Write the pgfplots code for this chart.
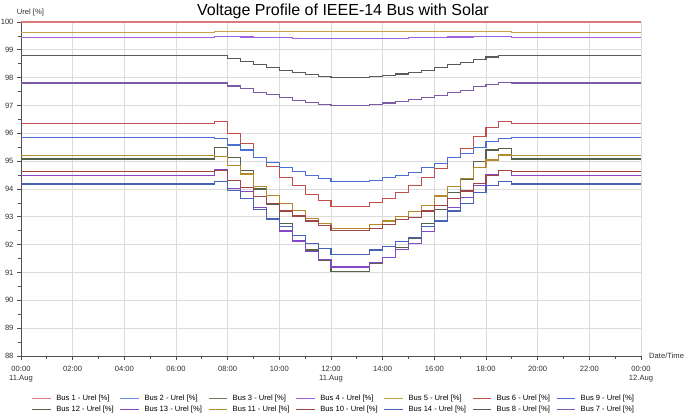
\documentclass[border=0pt]{standalone}
\usepackage{pgfplots}
\pgfplotsset{compat=1.18}
\usepackage{pgfplotstable}
\usepackage{fontspec}
\setmainfont{Liberation Sans}

\definecolor{cA}{HTML}{D97B7B}
\definecolor{cB}{HTML}{6C8EE6}
\definecolor{cC}{HTML}{6E7D5C}
\definecolor{cD}{HTML}{9D62DC}
\definecolor{cE}{HTML}{C8A24A}
\definecolor{cF}{HTML}{C24E4E}
\definecolor{cI}{HTML}{4C6FD4}
\definecolor{cL}{HTML}{56634A}
\definecolor{cM}{HTML}{8548C8}
\definecolor{cK}{HTML}{B38A2C}
\definecolor{cJ}{HTML}{9E4646}
\definecolor{cN}{HTML}{4862B5}
\definecolor{cH}{HTML}{585C58}
\definecolor{cG}{HTML}{7B5AA6}
\definecolor{axisgray}{HTML}{505050}
\definecolor{gridgray}{HTML}{DCDCDC}
\definecolor{labelgray}{HTML}{303030}

\pgfplotstableread{
t    b1  b2  b3  b4    b5    b6    b7    b8    b9    b10   b11   b12   b13   b14
0    100 100 100 99.44 99.63 96.36 97.81 98.80 95.84 94.62 95.20 95.08 94.50 94.18
7.5  100 100 100 99.47 99.65 96.41 97.81 98.80 95.82 94.66 95.17 95.48 94.68 94.27
8    100 100 100 99.47 99.65 96.00 97.70 98.68 95.58 94.31 94.84 95.14 94.02 93.96
8.5  100 100 100 99.46 99.65 95.64 97.60 98.58 95.40 94.06 94.54 94.66 93.90 93.66
9    100 100 100 99.45 99.65 95.14 97.47 98.46 95.14 93.72 94.08 94.00 93.34 93.25
9.5  100 100 100 99.44 99.65 94.80 97.38 98.38 94.96 93.47 93.78 93.45 92.95 92.92
10   100 100 100 99.43 99.65 94.42 97.28 98.27 94.78 93.21 93.49 92.77 92.49 92.64
10.5 100 100 100 99.42 99.65 94.12 97.19 98.19 94.62 93.03 93.22 92.32 92.13 92.32
11   100 100 100 99.41 99.65 93.81 97.11 98.11 94.48 92.85 92.95 91.81 91.75 92.05
11.5 100 100 100 99.40 99.65 93.58 97.05 98.05 94.37 92.68 92.77 91.45 91.47 91.87
12   100 100 100 99.40 99.65 93.38 97.01 98.00 94.26 92.50 92.59 91.05 91.20 91.66
12.5 100 100 100 99.40 99.65 93.38 97.01 98.00 94.26 92.50 92.59 91.05 91.20 91.66
13   100 100 100 99.40 99.65 93.38 97.01 98.00 94.26 92.50 92.59 91.05 91.20 91.66
13.5 100 100 100 99.40 99.65 93.50 97.04 98.03 94.31 92.59 92.71 91.33 91.36 91.81
14   100 100 100 99.41 99.65 93.67 97.09 98.08 94.41 92.71 92.85 91.55 91.55 91.93
14.5 100 100 100 99.42 99.65 93.87 97.14 98.13 94.50 92.89 93.00 91.89 91.83 92.11
15   100 100 100 99.43 99.65 94.12 97.21 98.20 94.60 92.97 93.18 92.23 92.05 92.25
15.5 100 100 100 99.44 99.65 94.41 97.28 98.27 94.77 93.21 93.42 92.77 92.47 92.64
16   100 100 100 99.45 99.65 94.74 97.37 98.36 94.92 93.40 93.75 93.25 92.85 92.85
16.5 100 100 100 99.46 99.65 95.12 97.47 98.46 95.12 93.66 94.08 93.87 93.35 93.21
17   100 100 100 99.46 99.65 95.44 97.55 98.54 95.28 93.93 94.38 94.33 93.69 93.49
17.5 100 100 100 99.47 99.65 95.89 97.67 98.66 95.50 94.20 94.77 95.00 94.14 93.88
18   100 100 100 99.47 99.65 96.20 97.76 98.74 95.70 94.50 95.04 95.40 94.53 94.14
18.5 100 100 100 99.47 99.65 96.42 97.83 98.80 95.82 94.66 95.22 95.46 94.66 94.27
19   100 100 100 99.44 99.63 96.36 97.81 98.80 95.86 94.62 95.20 95.08 94.50 94.18
24   100 100 100 99.44 99.63 96.36 97.81 98.80 95.86 94.62 95.20 95.08 94.50 94.18
}\data

\pgfplotsset{
  bus/.style={const plot, line width=1.15pt, color=#1,
    legend image code/.code={\draw[color=#1, line width=1.15pt] (0pt,0pt) -- (18.5pt,0pt);}},
}

\begin{document}
\begin{tikzpicture}[x=1pt,y=1pt]
\begin{axis}[
  at={(21pt,57pt)}, anchor=south west,
  scale only axis, width=620pt, height=334pt,
  xmin=0, xmax=24, ymin=88, ymax=100, clip=false,
  axis x line*=bottom, axis y line*=left,
  axis line style={color=axisgray, line width=0.8pt},
  xtick={0,2,...,24},
  xticklabels={{00:00\\11.Aug},{02:00},{04:00},{06:00},{08:00},{10:00},{12:00\\11.Aug},{14:00},{16:00},{18:00},{20:00},{22:00},{00:00\\12.Aug}},
  ytick={88,89,...,100},
  minor x tick num=1, minor y tick num=1,
  tick align=outside, major tick length=4pt, minor tick length=2.5pt,
  tick style={color=axisgray, line width=0.8pt},
  grid=major, major grid style={color=gridgray, line width=0.9pt},
  ticklabel style={font=\fontsize{7.6}{9}\selectfont, text=labelgray},
  xticklabel style={align=center, yshift=-3pt},
  /pgf/number format/assume math mode=true,
  legend columns=7,
  legend cell align=left,
  legend style={draw=none, fill=none, inner sep=0pt, outer sep=0pt,
    font=\fontsize{7.6}{9}\selectfont,
    nodes={inner sep=0pt, text height=6pt, text depth=2pt},
    row sep=2.7pt,
    /tikz/every odd column/.style={column sep=5pt},
    /tikz/every even column/.style={column sep=6.1pt},
    at={(rel axis cs:0.01726,-0.1442)}, anchor=west},
]
\addplot[bus=cA] table[x=t, y=b1] {\data};
\addlegendentry{Bus 1 - Urel [\%]}
\addplot[bus=cB] table[x=t, y=b2] {\data};
\addlegendentry{Bus 2 - Urel [\%]}
\addplot[bus=cC] table[x=t, y=b3] {\data};
\addlegendentry{Bus 3 - Urel [\%]}
\addplot[bus=cD] table[x=t, y=b4] {\data};
\addlegendentry{Bus 4 - Urel [\%]}
\addplot[bus=cE] table[x=t, y=b5] {\data};
\addlegendentry{Bus 5 - Urel [\%]}
\addplot[bus=cF] table[x=t, y=b6] {\data};
\addlegendentry{Bus 6 - Urel [\%]}
\addplot[bus=cI] table[x=t, y=b9] {\data};
\addlegendentry{Bus 9 - Urel [\%]}
\addplot[bus=cL] table[x=t, y=b12] {\data};
\addlegendentry{Bus 12 - Urel [\%]}
\addplot[bus=cM] table[x=t, y=b13] {\data};
\addlegendentry{Bus 13 - Urel [\%]}
\addplot[bus=cK] table[x=t, y=b11] {\data};
\addlegendentry{Bus 11 - Urel [\%]}
\addplot[bus=cJ] table[x=t, y=b10] {\data};
\addlegendentry{Bus 10 - Urel [\%]}
\addplot[bus=cN] table[x=t, y=b14] {\data};
\addlegendentry{Bus 14 - Urel [\%]}
\addplot[bus=cH] table[x=t, y=b8] {\data};
\addlegendentry{Bus 8 - Urel [\%]}
\addplot[bus=cG] table[x=t, y=b7] {\data};
\addlegendentry{Bus 7 - Urel [\%]}
\addplot[bus=cA, forget plot] table[x=t, y=b1] {\data};
\end{axis}
\node[anchor=base, inner sep=0pt, font=\fontsize{16}{19}\selectfont] at (343pt,397.5pt) {Voltage Profile of IEEE-14 Bus with Solar};
\node[anchor=west, inner sep=0pt, font=\fontsize{7.6}{9}\selectfont, text=labelgray] at (16.7pt,400.7pt) {Urel [\%]};
\node[anchor=west, inner sep=0pt, font=\fontsize{7.6}{9}\selectfont, text=labelgray] at (649pt,57pt) {Date/Time};
\pgfresetboundingbox
\useasboundingbox (0pt,0pt) rectangle (685pt,413pt);
\end{tikzpicture}
\end{document}
